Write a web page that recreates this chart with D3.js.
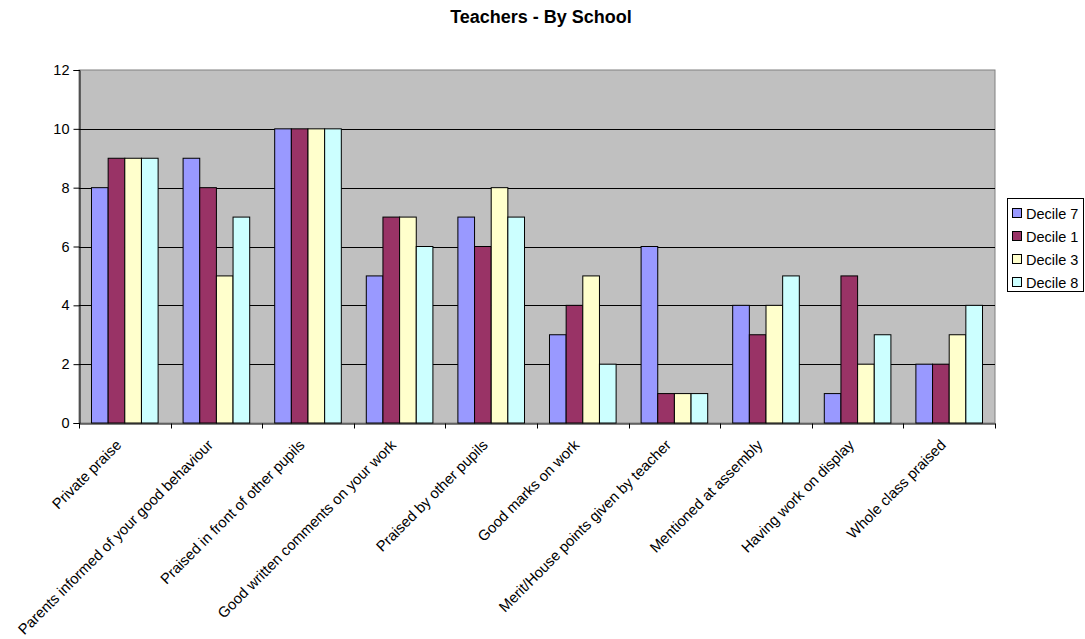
<!DOCTYPE html>
<html>
<head>
<meta charset="utf-8">
<script src="https://cdn.jsdelivr.net/npm/d3@7"></script>
<style>
  html, body { margin: 0; padding: 0; background: #ffffff; }
  svg { display: block; font-family: "Liberation Sans", Arial, sans-serif; }
</style>
</head>
<body>
<svg id="chart" width="1085" height="639"></svg>
<script>
// Categories (x axis)
const categories = [
  "Private praise",
  "Parents informed of your good behaviour",
  "Praised in front of other pupils",
  "Good written comments on your work",
  "Praised by other pupils",
  "Good marks on work",
  "Merit/House points given by teacher",
  "Mentioned at assembly",
  "Having work on display",
  "Whole class praised"
];

// Series names and values
const seriesNames = ["Decile 7", "Decile 1", "Decile 3", "Decile 8"];
const decile7 = [8, 9, 10, 5, 7, 3, 6, 4, 1, 2];
const decile1 = [9, 8, 10, 7, 6, 4, 1, 3, 5, 2];
const decile3 = [9, 5, 10, 7, 8, 5, 1, 4, 2, 3];
const decile8 = [9, 7, 10, 6, 7, 2, 1, 5, 3, 4];
const seriesValues = [decile7, decile1, decile3, decile8];
const seriesColors = ["#9999FF", "#993366", "#FFFFCC", "#CCFFFF"];

// Y axis ticks
const yTicks = [0, 2, 4, 6, 8, 10, 12];

const FONT = 14.5;
const LABEL_FONT = 14.8;
const svg = d3.select("#chart");
const plot = { left: 79, right: 995, top: 70, bottom: 423 };

const x0 = d3.scaleBand()
  .domain(categories)
  .range([plot.left, plot.right])
  .paddingInner(0)
  .paddingOuter(0);

// bar groups: 4 bars + 1.5 bar-width gap per category
const groupFrac = 4 / 5.5;
const x1 = d3.scaleBand()
  .domain(seriesNames)
  .range([0, x0.bandwidth() * groupFrac]);
const groupOffset = x0.bandwidth() * (1 - groupFrac) / 2;

const y = d3.scaleLinear().domain([0, 12]).range([plot.bottom, plot.top]);

// Title
svg.append("text")
  .attr("x", 541)
  .attr("y", 23)
  .attr("text-anchor", "middle")
  .attr("font-size", 18)
  .attr("font-weight", "bold")
  .text("Teachers - By School");

// Plot background
svg.append("rect")
  .attr("x", plot.left)
  .attr("y", plot.top)
  .attr("width", plot.right - plot.left)
  .attr("height", plot.bottom - plot.top)
  .attr("fill", "#C0C0C0")
  .attr("stroke", "#808080")
  .attr("stroke-width", 1);

// Gridlines
svg.append("g")
  .selectAll("line")
  .data(yTicks.filter(t => t > 0 && t < 12))
  .join("line")
  .attr("x1", plot.left)
  .attr("x2", plot.right)
  .attr("y1", d => Math.round(y(d)) + 0.5)
  .attr("y2", d => Math.round(y(d)) + 0.5)
  .attr("stroke", "#000")
  .attr("stroke-width", 1);

// Bars
const groups = svg.append("g")
  .selectAll("g")
  .data(categories)
  .join("g")
  .attr("transform", d => `translate(${x0(d) + groupOffset},0)`);

groups.selectAll("rect")
  .data((d, i) => seriesNames.map((s, j) => ({ s, j, v: seriesValues[j][i] })))
  .join("rect")
  .attr("x", d => x1(d.s))
  .attr("y", d => y(d.v))
  .attr("width", x1.bandwidth())
  .attr("height", d => y(0) - y(d.v))
  .attr("fill", d => seriesColors[d.j])
  .attr("stroke", "#000")
  .attr("stroke-width", 1);

// Y axis
const yAxis = d3.axisLeft(y)
  .tickValues(yTicks)
  .tickSize(6)
  .tickPadding(4)
  .tickFormat(d3.format("d"));
const gy = svg.append("g")
  .attr("transform", `translate(${plot.left + 0.5},0)`)
  .call(yAxis);
gy.select(".domain").attr("stroke", "#000");
gy.selectAll(".tick line").attr("stroke", "#000");
gy.selectAll(".tick text")
  .attr("font-size", FONT)
  .attr("font-family", "Liberation Sans, Arial, sans-serif")
  .attr("fill", "#000");

// X axis
const xAxis = d3.axisBottom(x0).tickSize(0).tickFormat("");
const gx = svg.append("g")
  .attr("transform", `translate(0,${plot.bottom + 0.5})`)
  .call(xAxis);
gx.select(".domain").attr("stroke", "#000");
// tick marks at category boundaries
gx.append("g")
  .selectAll("line")
  .data(categories.map(c => x0(c)).concat([plot.right]))
  .join("line")
  .attr("x1", d => Math.round(d) + 0.5)
  .attr("x2", d => Math.round(d) + 0.5)
  .attr("y1", 0)
  .attr("y2", 5)
  .attr("stroke", "#000");

// Rotated category labels
svg.append("g")
  .selectAll("text")
  .data(categories)
  .join("text")
  .attr("transform", d => `translate(${x0(d) + x0.bandwidth() / 2 - 2.5},${plot.bottom + 23}) rotate(-45)`)
  .attr("text-anchor", "end")
  .attr("font-size", LABEL_FONT)
  .attr("fill", "#000")
  .text(d => d);

// Legend
const legend = svg.append("g").attr("transform", "translate(1007,198)");
legend.append("rect")
  .attr("x", 0.5)
  .attr("y", 0.5)
  .attr("width", 76)
  .attr("height", 93)
  .attr("fill", "#fff")
  .attr("stroke", "#000");
const items = legend.selectAll("g.item")
  .data(seriesNames)
  .join("g")
  .attr("class", "item")
  .attr("transform", (d, i) => `translate(5,${15 + i * 23})`);
items.append("rect")
  .attr("x", 0.5)
  .attr("y", -4.5)
  .attr("width", 9)
  .attr("height", 9)
  .attr("fill", (d, i) => seriesColors[i])
  .attr("stroke", "#000");
items.append("text")
  .attr("x", 14)
  .attr("y", 5.5)
  .attr("font-size", FONT)
  .attr("fill", "#000")
  .text(d => d);
</script>
</body>
</html>
